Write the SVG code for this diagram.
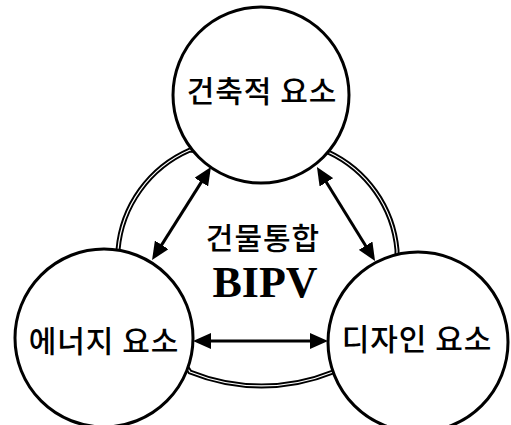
<svg xmlns="http://www.w3.org/2000/svg" width="511" height="425" viewBox="0 0 511 425">
  <style>
    .node { fill: #ffffff; stroke: #000000; stroke-width: 3; }
    .label { font-family: "Noto Sans CJK KR", "Noto Sans", sans-serif; font-size: 30px; font-weight: 500; letter-spacing: 1px; fill: #000000; text-anchor: middle; }
    .title { font-family: "Liberation Serif", "Times New Roman", serif; font-size: 44px; font-weight: bold; fill: #000000; text-anchor: middle; }
    .ring-outer { fill: none; stroke: #000000; stroke-width: 5; }
    .ring-inner { fill: none; stroke: #ffffff; stroke-width: 1.2; }
    .arrow { stroke: #000000; stroke-width: 3; fill: none; marker-start: url(#head); marker-end: url(#head); }
  </style>
  <defs>
    <marker id="head" viewBox="0 0 18 16" refX="8" refY="8" markerWidth="18" markerHeight="16" markerUnits="userSpaceOnUse" orient="auto-start-reverse">
      <path d="M0,0 L18,8 L0,16 z" fill="#000000"/>
    </marker>
  </defs>
  <rect width="511" height="425" fill="#ffffff"/>

  <g id="bipv">
    <path class="ring-outer" d="M 190,150 A 120 120 0 0 0 118,250 L 118,262 L 190,372 A 190 190 0 0 0 333,372 L 397,262 L 397,250 A 120 120 0 0 0 328,152 Z"/>
    <path class="ring-inner" d="M 190,150 A 120 120 0 0 0 118,250 L 118,262 L 190,372 A 190 190 0 0 0 333,372 L 397,262 L 397,250 A 120 120 0 0 0 328,152 Z"/>
    <text class="label" x="263" y="249">건물통합</text>
    <text class="title" x="265" y="297">BIPV</text>
  </g>

  <g id="architectural">
    <circle class="node" cx="261" cy="95" r="88"/>
    <text class="label" x="262" y="102">건축적 요소</text>
  </g>
  <g id="energy">
    <circle class="node" cx="104" cy="338" r="89"/>
    <text class="label" x="104" y="352">에너지 요소</text>
  </g>
  <g id="design">
    <circle class="node" cx="418" cy="342" r="90"/>
    <text class="label" x="417" y="350">디자인 요소</text>
  </g>

  <g id="connectors">
    <line class="arrow" x1="205.6" y1="175.4" x2="157.4" y2="251.6"/>
    <line class="arrow" x1="322.2" y1="175.5" x2="369.8" y2="252.5"/>
    <line class="arrow" x1="203" y1="341" x2="318" y2="341"/>
  </g>
</svg>
